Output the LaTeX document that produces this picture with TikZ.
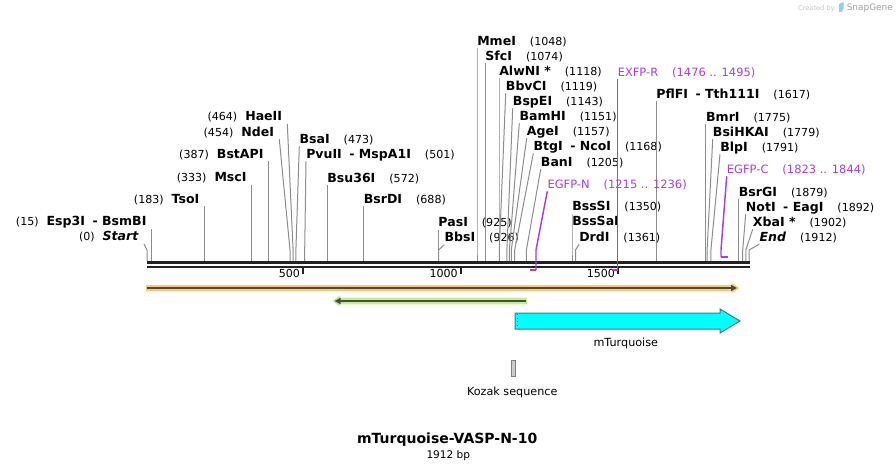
\documentclass[tikz,border=0pt]{standalone}
\usepackage{fontspec}
\setmainfont{DejaVu Sans}
\usetikzlibrary{arrows.meta}
\definecolor{cutgray}{HTML}{8C8C8C}
\definecolor{primer}{HTML}{A33CF2}
\definecolor{seqline}{HTML}{222222}
\definecolor{orangehalo}{HTML}{FBC873}
\definecolor{greenhalo}{HTML}{C4F08C}
\definecolor{featline}{HTML}{4A4A4A}
\definecolor{turq}{HTML}{00FFFF}
\definecolor{turqline}{HTML}{3F7A7A}
\definecolor{kozak}{HTML}{CCCCCC}
\definecolor{snapblue}{HTML}{8CCFF0}
\newcommand\enzsep{\hspace{0.6em}-\hspace{0.35em}}
\newcommand\enz[2]{{\fontsize{9.4}{11}\selectfont\bfseries #1}\hspace{10.5pt}(#2)}
\newcommand\lenz[2]{(#2)\hspace{6pt}{\fontsize{9.4}{11}\selectfont\bfseries #1}}
\begin{document}
\begin{tikzpicture}[x=0.75pt,y=-0.75pt,
  lab/.style={inner sep=0pt,text depth=2.25pt,font=\fontsize{8.3}{10}\selectfont},
  cut/.style={draw=cutgray,line width=0.75pt},
  prim/.style={draw=primer,line width=1.1pt},
  primlab/.style={lab,text=primer,font=\fontsize{8.6}{10}\selectfont}]
\useasboundingbox (0,0) rectangle (896,471);
\node[anchor=base east,inner sep=0pt,text=gray!45,font=\fontsize{5}{6}\selectfont] (made) at (835,10) {Created by};
\fill[snapblue] (839,4) -- (843.5,2) -- (843.5,8.5) -- (841.5,12) -- (839,12) -- cycle;
\node[anchor=base west,inner sep=0pt,text=gray!75,font=\fontsize{6.7}{8}\selectfont] (snap) at (846.5,10) {SnapGene};
% sequence
\coordinate (seqL) at (147,262.5);
\coordinate (seqR) at (750,262.5);
\draw[seqline,line width=2.25pt] (seqL) -- (seqR);
\draw[seqline,line width=1.5pt] ([yshift=-3.2pt]seqL) -- ([yshift=-3.2pt]seqR);
\foreach \t/\x in {500/303.3, 1000/461, 1500/618.3}{
  \draw[seqline,line width=1.5pt] (\x,267) -- (\x,274);
  \node[lab,anchor=base east] (tk\t) at (\x-3,277) {\t};
}
% sites to the left
\foreach \k/\x/\y/\n/\p/\s in {start/144/240.7/{\textit{Start}}/0/147,
    esp/151.7/225.5/{Esp3I\enzsep BsmBI}/15/151.7, tso/204.6/203/TsoI/183/204.6,
    msc/251.8/181.7/MscI/333/251.8, bst/268.8/158/BstAPI/387/268.8,
    nde/279.3/136/NdeI/454/290, hae/287.3/120.7/HaeII/464/293.1}{
  \coordinate (b\k) at (\s,250);
  \coordinate (s\k) at (\s,261);
  \node[lab,anchor=base east,inner xsep=3.75pt] (n\k) at (\x,\y) {\lenz{\n}{\p}};
  \draw[cut] (n\k.south east) -- (b\k) -- (s\k);
}
% sites to the right
\foreach \k/\x/\y/\n/\p/\s in {bsa/299.3/143/BsaI/473/295.9,
    pvu/306/158/{PvuII\enzsep MspA1I}/501/304.7, bsu/327.1/182/Bsu36I/572/327.1,
    bsr/363.6/203/BsrDI/688/363.6, pas/438.2/226.5/PasI/925/438.2,
    bbs/444.3/241.5/BbsI/926/438.6, mme/477/45/MmeI/1048/477,
    sfc/485.2/60/SfcI/1074/485.2, alw/499/75/{AlwNI *}/1118/499,
    bbv/505.7/90/BbvCI/1119/499.3, bsp/512.7/105/BspEI/1143/506.9,
    bam/519.3/120/BamHI/1151/509.4, age/526.7/135/AgeI/1157/511.3,
    btg/533.3/150/{BtgI\enzsep NcoI}/1168/514.7, ban/540.7/166/BanI/1205/526.4,
    bss/572/210.7/BssSI/1350/572, drd/579/241/DrdI/1361/575.5,
    pfl/656.1/98/{PflFI\enzsep Tth111I}/1617/656.1, bmr/705.9/121/BmrI/1775/705.9,
    bsi/712.7/136/BsiHKAI/1779/707.1, blp/720/151/BlpI/1791/710.9,
    bsg/738.6/196/BsrGI/1879/738.6, not/745.7/211/{NotI\enzsep EagI}/1892/742.7,
    xba/752.7/226/{XbaI *}/1902/745.8, end/759.3/241/{\textit{End}}/1912/749}{
  \coordinate (b\k) at (\s,250);
  \coordinate (s\k) at (\s,261);
  \node[lab,anchor=base west] (n\k) at (\x,\y) {\enz{\n}{\p}};
  \draw[cut] (n\k.south west) -- (b\k) -- (s\k);
}
\node[lab,anchor=base west,font=\fontsize{9.4}{11}\selectfont\bfseries] (nbssa) at (572,225.5) {BssSaI};
% primers
\node[primlab,anchor=base west] (pN) at (547.3,188) {EGFP-N\hspace{10.5pt}(1215 .. 1236)};
\coordinate (bN) at (536,250);
\coordinate (sN) at (536,270);
\coordinate (eN) at (529.5,270);
\draw[prim] (pN.south west) -- (bN) -- (sN);
\draw[prim,line width=1.6pt] (sN) -- (eN);
\node[primlab,anchor=base west] (pR) at (617.5,76) {EXFP-R\hspace{10.5pt}(1476 .. 1495)};
\coordinate (sR) at (617.5,270);
\coordinate (eR) at (611.7,270);
\draw[prim] (pR.south west) -- (sR);
\draw[prim,line width=1.6pt] (sR) -- (eR);
\node[primlab,anchor=base west] (pC) at (726.7,173) {EGFP-C\hspace{10.5pt}(1823 .. 1844)};
\coordinate (bC) at (721,250);
\coordinate (sC) at (721,257);
\coordinate (eC) at (727.6,257);
\draw[prim] (pC.south west) -- (bC) -- (sC);
\draw[prim,line width=1.6pt] (sC) -- (eC);
% features
\fill[orangehalo] (146,285) -- (731.5,285) -- (731.5,282.7) -- (739.5,288) -- (731.5,293.3) -- (731.5,291) -- (146,291) -- cycle;
\draw[featline,line width=1.5pt,-{Triangle[length=4.5pt,width=4.5pt]}] (147,288) -- (737,288);
\fill[greenhalo] (527,297.7) -- (340,297.7) -- (340,295.3) -- (332.3,301) -- (340,306.7) -- (340,304.3) -- (527,304.3) -- cycle;
\draw[featline,line width=1.5pt,-{Triangle[length=4.5pt,width=4.5pt]}] (526,301) -- (334.5,301);
\draw[turqline,fill=turq,line width=0.75pt] (515,313) -- (720,313) -- (720,309) -- (740,321) -- (720,333) -- (720,329) -- (515,329) -- cycle;
\draw[turqline,dotted,line width=0.75pt] (517.5,314) -- (517.5,328);
\node[lab,anchor=base,font=\fontsize{8.4}{10}\selectfont] (turqlab) at (625.8,346) {mTurquoise};
\draw[gray,fill=kozak,line width=0.75pt] (511.7,360.7) rectangle (515,376);
\node[lab,anchor=base,font=\fontsize{8.4}{10}\selectfont] (kozaklab) at (512.2,395) {Kozak sequence};
% title
\node[lab,anchor=base,font=\fontsize{10.5}{12}\selectfont\bfseries] (title) at (447.2,443.3) {mTurquoise-VASP-N-10};
\node[lab,anchor=base,font=\fontsize{7.9}{9}\selectfont] (len) at (448.3,458) {1912 bp};
\end{tikzpicture}
\end{document}
